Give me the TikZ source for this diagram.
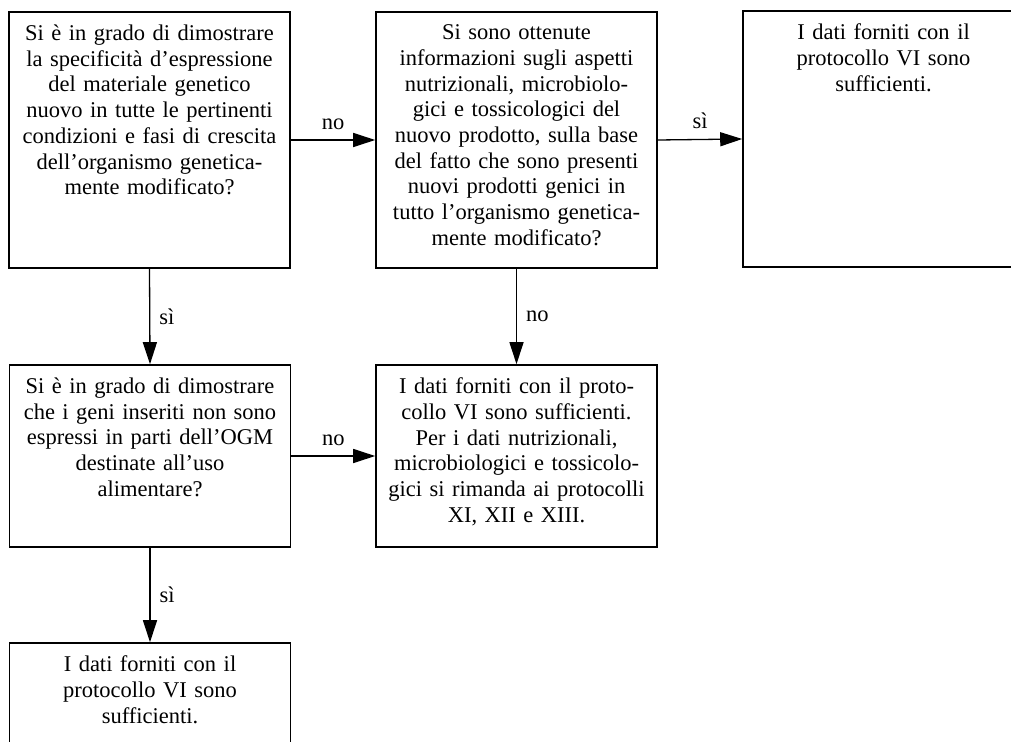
\documentclass[tikz,border=0pt]{standalone}
\usepackage{fontspec}
\setmainfont{Liberation Serif}
\usetikzlibrary{positioning,arrows.meta}
\tikzstyle{box}=[draw, line width=1.6pt, minimum width=281pt, inner sep=0pt]
\tikzstyle{txt}=[text width=262pt, align=center, inner sep=0pt, font=\fontsize{22.5}{25.7}\selectfont]
\tikzstyle{arr}=[line width=1.3pt, -{Triangle[length=22pt, width=14pt]}]
\tikzstyle{lbl}=[inner sep=0pt, font=\fontsize{22.5}{25.7}\selectfont]

\begin{document}
\begin{tikzpicture}[x=1pt, y=-1pt]
\useasboundingbox (0, 0) rectangle (1011, 741);
% Boxes
    \node[box, minimum height=256pt] (qa) at (149.5, 140) {};
    \node[box, minimum height=256pt] (qb) at (516.5, 140) {};
    \node[box, minimum height=256pt] (rc) at (883.5, 139) {};
    \node[box, minimum height=182pt] (qd) at (150, 456) {};
    \node[box, minimum height=182pt] (re) at (516.5, 456) {};
    \node[box, minimum height=120pt] (rf) at (150, 703) {};
% Texts
    \node[txt, below=13.5pt of qa.north] (qatxt) {Si è in grado di dimostrare\\ la specificità d'espressione\\ del materiale genetico\\ nuovo in tutte le pertinenti\\ condizioni e fasi di crescita\\ dell'organismo genetica-\\ mente modificato?};
    \node[txt, below=13.5pt of qb.north] (qbtxt) {Si sono ottenute\\ informazioni sugli aspetti\\ nutrizionali, microbiolo-\\ gici e tossicologici del\\ nuovo prodotto, sulla base\\ del fatto che sono presenti\\ nuovi prodotti genici in\\ tutto l'organismo genetica-\\ mente modificato?};
    \node[txt, below=13.5pt of rc.north] (rctxt) {I dati forniti con il\\ protocollo VI sono\\ sufficienti.};
    \node[txt, below=13.5pt of qd.north] (qdtxt) {Si è in grado di dimostrare\\ che i geni inseriti non sono\\ espressi in parti dell'OGM\\ destinate all'uso\\ alimentare?};
    \node[txt, below=13.5pt of re.north] (retxt) {I dati forniti con il proto-\\ collo VI sono sufficienti.\\ Per i dati nutrizionali,\\ microbiologici e tossicolo-\\ gici si rimanda ai protocolli\\ XI, XII e XIII.};
    \node[txt, below=13.5pt of rf.north] (rftxt) {I dati forniti con il\\ protocollo VI sono\\ sufficienti.};
% Arrows
    \draw[arr] (qa.east) -- node[lbl, above=10pt] (no1) {no} (qb.west);
    \draw[arr] (qb.east) -- node[lbl, above=10pt] (si1) {sì} (rc.west);
    \draw[arr] (qa.south) -- node[lbl, right=9pt] (si2) {sì} (qd.north);
    \draw[arr] (qb.south) -- node[lbl, right=9pt] (no2) {no} (re.north);
    \draw[arr] (qd.east) -- node[lbl, above=10pt] (no3) {no} (re.west);
    \draw[arr] (qd.south) -- node[lbl, right=9pt] (si3) {sì} (rf.north);
\end{tikzpicture}
\end{document}
